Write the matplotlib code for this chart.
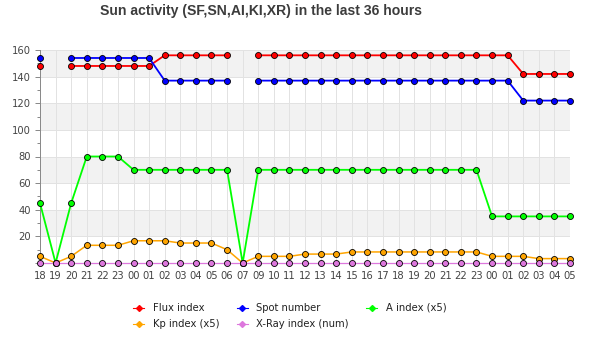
import numpy as np
import matplotlib
matplotlib.use("Agg")
import matplotlib.pyplot as plt
from matplotlib.lines import Line2D
from matplotlib.ticker import MultipleLocator

nan = np.nan

hours = ["18", "19", "20", "21", "22", "23", "00", "01", "02", "03", "04", "05",
         "06", "07", "09", "10", "11", "12", "13", "14", "15", "16", "17", "18",
         "19", "20", "21", "22", "23", "00", "01", "02", "03", "04", "05"]

flux = [148, nan] + [148] * 6 + [156] * 5 + [nan] + [156] * 17 + [142] * 4
spot = [154, nan] + [154] * 6 + [137] * 5 + [nan] + [137] * 17 + [122] * 4
a_index = [45, 0, 45] + [80] * 3 + [70] * 7 + [0] + [70] * 15 + [35] * 6
kp_index = ([5, 0, 5] + [13.3] * 3 + [16.7] * 3 + [15] * 3 + [10, 0]
            + [5] * 3 + [6.7] * 3 + [8.3] * 9 + [5] * 3 + [3.3] * 3)
xray = [0] * 35

series = [
    ("Flux index", flux, "#ff0000", 1.3),
    ("Spot number", spot, "#0000ff", 1.3),
    ("A index (x5)", a_index, "#00ff00", 1.3),
    ("Kp index (x5)", kp_index, "#ffa500", 1.1),
    ("X-Ray index (num)", xray, "#dd77dd", 0.9),
]

px = 0.72  # points per pixel at dpi 100
W, H = 590, 350
fig = plt.figure(figsize=(W / 100, H / 100), dpi=100)
ax = fig.add_axes([40 / W, (H - 263) / H, 530 / W, 213 / H])

x = np.arange(len(hours))

# alternating horizontal bands
for lo in range(20, 160, 40):
    ax.axhspan(lo, lo + 20, color="#f2f2f2", zorder=0, lw=0)

ax.set_axisbelow(True)
ax.grid(True, which="major", color="#e2e2e2", lw=1.0 * px, zorder=1)

for name, vals, color, lw in series:
    ax.plot(x, vals, color=color, lw=lw, marker="o", ms=6 * px,
            mfc=color, mec="black", mew=0.6, zorder=3, clip_on=False)

ax.set_xlim(0, len(hours) - 1)
ax.set_ylim(0, 160)
ax.set_xticks(x)
ax.set_xticklabels(hours)
ax.set_yticks(range(0, 161, 20))
ax.set_yticklabels([""] + [str(v) for v in range(20, 161, 20)])
ax.yaxis.set_minor_locator(MultipleLocator(10))

for side in ("top", "right"):
    ax.spines[side].set_visible(False)
for side in ("left", "bottom"):
    ax.spines[side].set_color("#8a8a8a")
    ax.spines[side].set_linewidth(1.0 * px)

ax.tick_params(axis="y", which="major", length=5 * px, width=1 * px,
               color="#8a8a8a", labelsize=10 * px, labelcolor="#444444", pad=4 * px)
ax.tick_params(axis="y", which="minor", length=3 * px, width=1 * px, color="#8a8a8a")
ax.tick_params(axis="x", which="major", length=3 * px, width=1 * px,
               color="#8a8a8a", labelsize=10 * px, labelcolor="#444444", pad=5 * px)

fig.text(261 / W, 1 - 11 / H, "Sun activity (SF,SN,AI,KI,XR) in the last 36 hours",
         ha="center", va="center", fontsize=14 * px, family="Liberation Sans",
         weight="bold", color="#3c3c3c")

handles = {}
for name, vals, color, lw in series:
    handles[name] = Line2D([], [], color=color, lw=0.8, marker="D", ms=3,
                           mfc=color, mec=color)
order = ["Flux index", "Kp index (x5)", "Spot number", "X-Ray index (num)", "A index (x5)"]
fig.legend([handles[n] for n in order], order, ncol=3, loc="upper left",
           bbox_to_anchor=(133 / W, 1 - 303 / H), frameon=False,
           fontsize=10 * px, handlelength=1.1, handletextpad=0.9,
           columnspacing=1.7, labelspacing=0.6, borderpad=0, borderaxespad=0,
           labelcolor="#222222")

fig.savefig("out.png", dpi=100)
